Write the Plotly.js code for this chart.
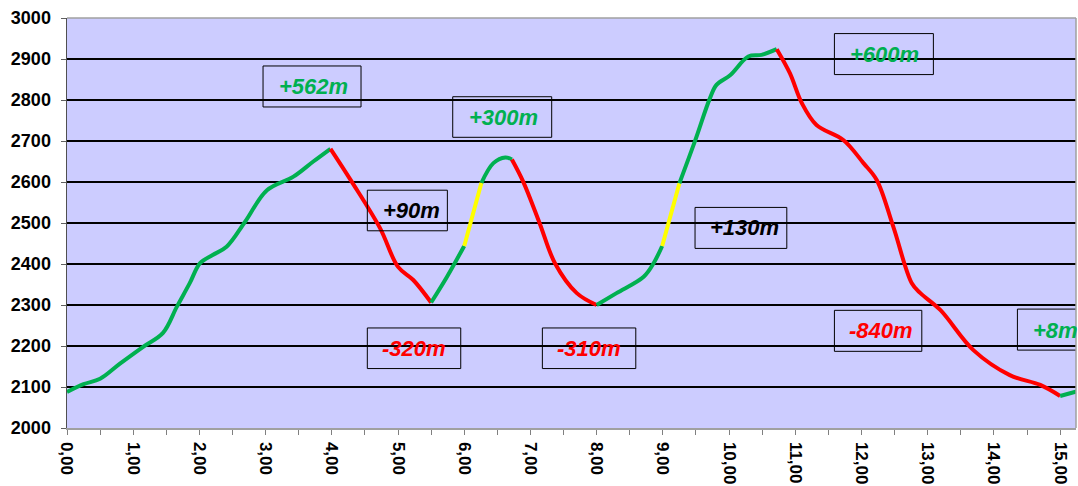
<!DOCTYPE html>
<html>
<head>
<meta charset="utf-8">
<script src="https://cdn.plot.ly/plotly-3.0.1.min.js"></script>
<style>html,body{margin:0;padding:0;background:#fff;}#chart{width:1078px;height:486px;}</style>
</head>
<body>
<div id="chart"></div>
<script>
// Distance (km) and elevation (m) of the profile
const dist = [0, 0.25, 0.5, 0.8, 1.15, 1.45, 1.66, 1.85, 2.01, 2.2, 2.41, 2.69, 3.02, 3.42, 3.72, 3.98,
  4.3, 4.73, 5.0, 5.23, 5.5, 5.74, 6.0, 6.26, 6.44, 6.62, 6.72, 6.89, 7.14, 7.37, 7.70, 8.0,
  8.30, 8.71, 8.86, 8.99, 9.25, 9.49, 9.71, 9.81, 10.02, 10.29, 10.49, 10.72, 10.92, 11.10, 11.32,
  11.73, 12.03, 12.23, 12.48, 12.76, 12.89, 13.19, 13.69, 14.24, 14.70, 15.0, 15.25];
const elev = [2088, 2107, 2120, 2157, 2198, 2232, 2296, 2352, 2402, 2422, 2442, 2503, 2580, 2613, 2650, 2681,
  2601, 2487, 2393, 2361, 2306, 2369, 2444, 2598, 2646, 2660, 2655, 2601, 2499, 2402, 2329, 2300,
  2329, 2369, 2402, 2444, 2597, 2702, 2804, 2837, 2861, 2906, 2910, 2924, 2865, 2792, 2739,
  2702, 2646, 2605, 2491, 2353, 2329, 2288, 2190, 2129, 2105, 2078, 2089];
// Segments: start index, end index, kind (up / down / steep)
const segStart = [0, 15, 20, 22, 23, 26, 31, 35, 36, 43, 57];
const segEnd   = [15, 20, 22, 23, 26, 31, 35, 36, 43, 57, 58];
const segKind  = ['up','down','up','steep','up','down','up','steep','up','down','up'];
// Labels
const labelText = ['+562m', '+300m', '+90m', '-320m', '-310m', '+130m', '+600m', '-840m', '+8m'];
const labelKind = ['up', 'up', 'neutral', 'down', 'down', 'neutral', 'up', 'down', 'up'];
const yTicks = [2000, 2100, 2200, 2300, 2400, 2500, 2600, 2700, 2800, 2900, 3000];
const xTicks = [0,1,2,3,4,5,6,7,8,9,10,11,12,13,14,15];

const colors = {up: '#00B050', down: '#FF0000', steep: '#FFFF00', neutral: '#000000'};

const traces = segStart.map((s, i) => ({
  x: dist.slice(s, segEnd[i] + 1),
  y: elev.slice(s, segEnd[i] + 1),
  type: 'scatter', mode: 'lines',
  line: {color: colors[segKind[i]], width: 4, shape: 'spline', smoothing: 1},
  hoverinfo: 'skip', showlegend: false
}));

// label boxes (layout positions)
const boxes = [
  [2.961, 4.441, 2783, 2883, 3.17, 2834],
  [5.826, 7.321, 2709, 2808, 6.04, 2758],
  [4.536, 5.745, 2481, 2580, 4.74, 2530],
  [4.536, 5.947, 2145, 2244, 4.73, 2195],
  [7.180, 8.591, 2145, 2244, 7.37, 2195],
  [9.486, 10.872, 2438, 2538, 9.68, 2488],
  [11.591, 13.086, 2862, 2962, 11.79, 2912],
  [11.591, 12.911, 2187, 2287, 11.78, 2237],
  [14.355, 15.85, 2190, 2290, 14.56, 2239]
];

const shapes = boxes.map(b => ({
  type: 'rect', xref: 'x', yref: 'y', x0: b[0], x1: b[1], y0: b[2], y1: b[3],
  line: {color: '#000', width: 1}, fillcolor: 'rgba(0,0,0,0)', layer: 'above'
}));
shapes.push({type:'line', xref:'paper', yref:'paper', x0:0, x1:1, y0:1, y1:1, line:{color:'#A0A0A0', width:1.5}});
shapes.push({type:'line', xref:'paper', yref:'paper', x0:1, x1:1, y0:0, y1:1, line:{color:'#A0A0A0', width:1.5}});

const annotations = boxes.map((b, i) => ({
  x: b[4], y: b[5], xref: 'x', yref: 'y', xanchor: 'left', yanchor: 'middle',
  text: '<b><i>' + labelText[i] + '</i></b>', showarrow: false,
  font: {family: 'Liberation Sans, Arial, sans-serif', size: 22, color: colors[labelKind[i]]}
}));

const layout = {
  width: 1078, height: 486,
  margin: {l: 67, r: 2, t: 18, b: 58},
  paper_bgcolor: '#FFFFFF', plot_bgcolor: '#CCCCFF',
  font: {family: 'Liberation Sans, Arial, sans-serif', color: '#000'},
  xaxis: {
    range: [0, 15.24], tickvals: xTicks, ticktext: xTicks.map(v => v.toFixed(2).replace('.', ',')),
    tickangle: 90, ticks: 'outside', ticklen: 5, tickcolor: '#808080', tickwidth: 1,
    ticklabelstandoff: 4,
    showgrid: false, zeroline: false, showline: true, linecolor: '#A0A0A0', linewidth: 1.5,
    tickfont: {size: 17, family: 'Liberation Sans, Arial, sans-serif', weight: 'bold'},
    minor: {dtick: 0.5, tick0: 0, ticks: 'outside', ticklen: 5, tickcolor: '#808080', showgrid: false},
    fixedrange: true
  },
  yaxis: {
    range: [2000, 3000], tickvals: yTicks, ticktext: yTicks.map(String),
    ticks: 'outside', ticklen: 5, tickcolor: '#606060',
    ticklabelstandoff: 6,
    showgrid: true, gridcolor: '#000000', gridwidth: 1.3, zeroline: false,
    showline: true, linecolor: '#505050', linewidth: 1.5,
    tickfont: {size: 18, family: 'Liberation Sans, Arial, sans-serif', weight: 'bold'},
    fixedrange: true
  },
  shapes: shapes,
  annotations: annotations
};

Plotly.newPlot('chart', traces, layout, {displayModeBar: false, staticPlot: true});
</script>
</body>
</html>
